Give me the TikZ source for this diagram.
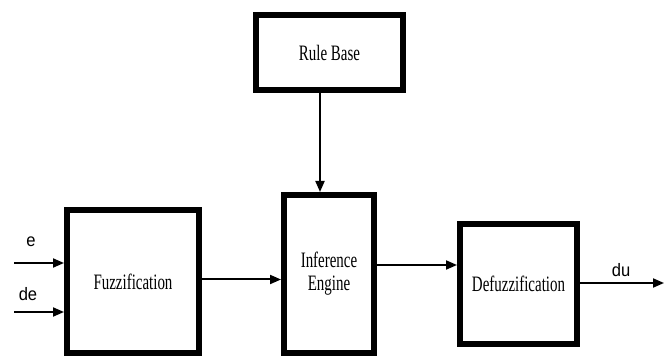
\documentclass[tikz,border=0pt]{standalone}
\usepackage{fontspec}
\usetikzlibrary{arrows.meta,calc}
\newfontfamily\boxfont[FakeStretch=0.68]{Liberation Serif}
\newfontfamily\lblfont[FakeStretch=0.92]{Liberation Sans}
\begin{document}
\begin{tikzpicture}[x=1pt,y=-1pt,
  blockbox/.style={draw=black,line width=6pt,fill=white,inner sep=0pt,
    font=\boxfont\fontsize{22}{23}\selectfont,align=center},
  conn/.style={line width=2pt,-{Triangle[length=11pt,width=9pt]}},
  lbl/.style={font=\lblfont\fontsize{18}{20}\selectfont,inner sep=0pt}]
\useasboundingbox (0,0) rectangle (670,358);
\node[blockbox,minimum width=147pt,minimum height=75pt] (rb) at (329.5,52.5) {Rule Base};
\node[blockbox,minimum width=132pt,minimum height=143pt] (fz) at (133,281.5) {Fuzzification};
\node[blockbox,minimum width=90pt,minimum height=158pt] (ie) at (329,274) {Inference\\Engine};
\node[blockbox,minimum width=117pt,minimum height=120pt] (df) at (518.5,284) {Defuzzification};
\coordinate (ein) at (14,263);
\coordinate (dein) at (14,312);
\coordinate (duout) at (664,283);
\node[lbl] (le) at (31,242) {e};
\node[lbl] (lde) at (28,294) {de};
\node[lbl] (ldu) at (621,270) {du};
\draw[conn] (ein) -- (ein -| fz.west);
\draw[conn] (dein) -- (dein -| fz.west);
\draw[conn] ([xshift=-9.5pt]rb.south) -- ([xshift=-9pt]ie.north);
\draw[conn] ([yshift=2pt]fz.east) -- ([yshift=2pt]fz.east -| ie.west);
\draw[conn] ([yshift=9pt]ie.east) -- ([yshift=9pt]ie.east -| df.west);
\draw[conn] (df.east |- duout) -- (duout);
\end{tikzpicture}
\end{document}
